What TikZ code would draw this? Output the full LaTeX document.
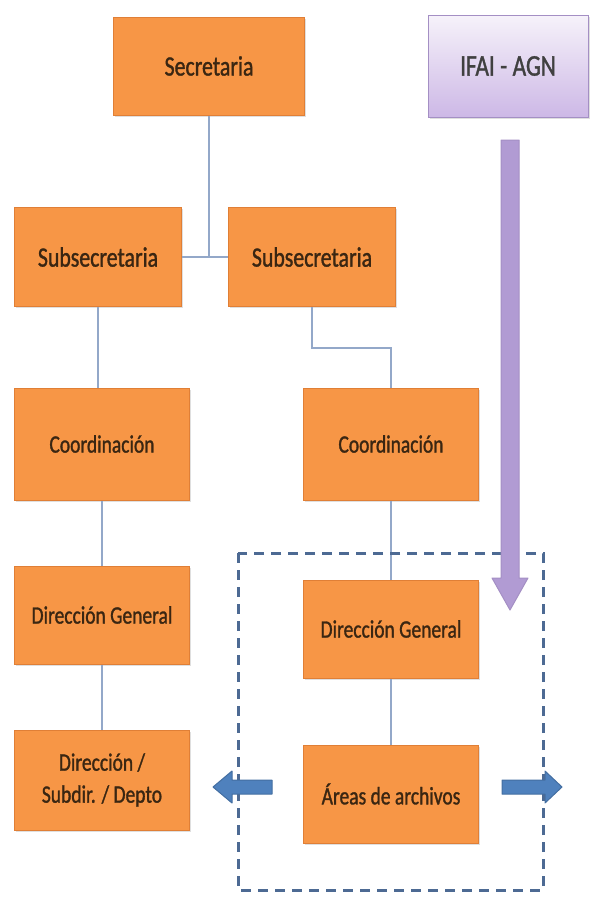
\documentclass[tikz,border=0pt]{standalone}
\usepackage{fontspec}
\setmainfont{Carlito}[FakeStretch=0.78,FakeBold=1.2]
\usetikzlibrary{shadows}
\definecolor{orgfill}{HTML}{F79646}
\definecolor{orgline}{HTML}{E07F36}
\definecolor{orgtext}{HTML}{3A2612}
\definecolor{linkblue}{HTML}{93A8C9}
\definecolor{zoneblue}{HTML}{4D6A93}
\definecolor{arrowblue}{HTML}{4F81BD}
\definecolor{lilatop}{HTML}{F6F2FA}
\definecolor{lilabot}{HTML}{CDB8E6}
\definecolor{lilaline}{HTML}{A48FC4}
\definecolor{lilaarrow}{HTML}{B19BD3}
\begin{document}
\begin{tikzpicture}
			[x=1pt,y=1pt,
			 unit/.style={rectangle,draw=orgline,fill=orgfill,line width=1pt,text=orgtext,
			   align=center,font=\fontsize{25}{32}\selectfont,
			   drop shadow={opacity=0.25,shadow xshift=1.5pt,shadow yshift=-1.5pt}},
			 link/.style={draw=linkblue,line width=1.5pt},
			 blockarrow/.style={line width=1pt,line join=round}]
			\useasboundingbox (0,0) rectangle (591,-900);
			% orange boxes
			\node[unit,name=sec,minimum width=191pt,minimum height=98pt,font=\fontsize{28}{32}\selectfont]at(209,-66){Secretaria};
			\node[unit,name=sub1,minimum width=167pt,minimum height=99pt,font=\fontsize{28}{32}\selectfont]at(98,-257){Subsecretaria};
			\node[unit,name=sub2,minimum width=167pt,minimum height=99pt,font=\fontsize{28}{32}\selectfont]at(312,-257){Subsecretaria};
			\node[unit,name=coord1,minimum width=175pt,minimum height=112pt]at(102,-444){Coordinación};
			\node[unit,name=coord2,minimum width=175pt,minimum height=112pt]at(391,-444){Coordinación};
			\node[unit,name=dg1,minimum width=175pt,minimum height=98pt]at(102,-615){Dirección General};
			\node[unit,name=dg2,minimum width=175pt,minimum height=98pt]at(391,-629){Dirección General};
			\node[unit,name=dir,minimum width=175pt,minimum height=100pt]at(102,-780){Dirección /\\Subdir. / Depto};
			\node[unit,name=areas,minimum width=175pt,minimum height=98pt]at(391,-794){Áreas de archivos};
			\node[name=ifai,rectangle,draw=lilaline,line width=1pt,top color=lilatop,bottom color=lilabot,
			  minimum width=160pt,minimum height=102pt,text=black!75,font=\fontsize{30}{32}\selectfont,
			  drop shadow={opacity=0.25,shadow xshift=1.5pt,shadow yshift=-1.5pt}]at(508,-66){IFAI - AGN};
			% connectors
			\coordinate (bend) at (312,-348);
			\draw[link] (sec.south) -- (sec.south|-sub1.east);
			\draw[link] (sub1.east) -- (sub2.west);
			\draw[link] (sub1.south) -- (sub1.south|-coord1.north);
			\draw[link] (coord1.south) -- (dg1.north);
			\draw[link] (dg1.south) -- (dir.north);
			\draw[link] (sub2.south) -- (bend) -| (coord2.north);
			\draw[link] (coord2.south) -- (dg2.north);
			\draw[link] (dg2.south) -- (areas.north);
			% dashed zone
			\draw[draw=zoneblue,line width=3pt,dash pattern=on 10pt off 7pt] (238,-553) rectangle (543,-890);
			% block arrows
			\draw[blockarrow,draw=lilaline,fill=lilaarrow] (501,-140) -- (519,-140) -- (519,-578) -- (528,-578)
			  -- (510,-610) -- (492,-578) -- (501,-578) -- cycle;
			\draw[blockarrow,draw=arrowblue!85!black,fill=arrowblue] (272,-780) -- (232,-780) -- (232,-771)
			  -- (213,-787) -- (232,-803) -- (232,-794) -- (272,-794) -- cycle;
			\draw[blockarrow,draw=arrowblue!85!black,fill=arrowblue] (502,-780) -- (545,-780) -- (545,-771)
			  -- (562,-787) -- (545,-803) -- (545,-794) -- (502,-794) -- cycle;
		\end{tikzpicture}
\end{document}
